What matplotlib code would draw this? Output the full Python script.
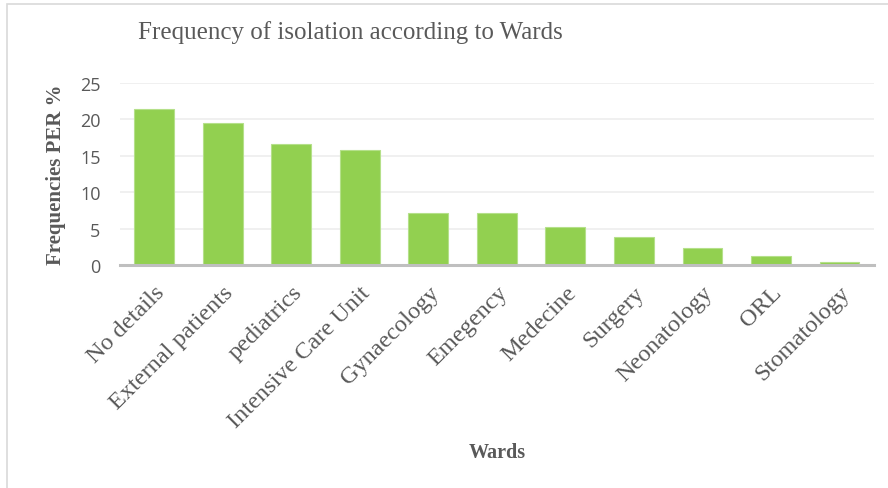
import matplotlib.pyplot as plt
from matplotlib.patches import Rectangle

wards = ['No details', 'External patients', 'pediatrics', 'Intensive Care Unit',
         'Gynaecology', 'Emegency', 'Medecine', 'Surgery', 'Neonatology', 'ORL',
         'Stomatology']
freq = [21.5, 19.5, 16.6, 15.8, 7.2, 7.2, 5.2, 3.8, 2.4, 1.2, 0.4]

serif = ['Liberation Serif', 'DejaVu Serif']
grey = '#595959'

fig = plt.figure(figsize=(8.88, 4.89), dpi=100)
ax = fig.add_axes([0.135, 0.456, 0.849, 0.372])

ax.bar(range(len(wards)), freq, width=0.58, color='#92D050',
       edgecolor='#B5E08A', linewidth=0.8, zorder=3)

ax.set_xlim(-0.5, len(wards) - 0.5)
ax.set_ylim(0, 25)
ax.set_yticks([0, 5, 10, 15, 20, 25])
ax.yaxis.grid(True, color='#EDEDED', linewidth=1.2, zorder=0)
ax.set_axisbelow(True)
for s in ['top', 'right', 'left']:
    ax.spines[s].set_visible(False)
ax.spines['bottom'].set_color('#BFBFBF')
ax.spines['bottom'].set_linewidth(2.2)
ax.spines['bottom'].set_zorder(4)
ax.tick_params(axis='both', length=0)
ax.tick_params(axis='y', labelsize=13, labelcolor=grey, pad=14)
for t in ax.get_yticklabels():
    t.set_family(['Open Sans', 'DejaVu Sans'])

ax.set_xticks(range(len(wards)))
ax.set_xticklabels(wards, rotation=45, ha='right', rotation_mode='anchor',
                   family=serif, fontsize=17.5, color=grey)
ax.tick_params(axis='x', pad=12)

ax.set_ylabel('Frequencies PER %', family=serif, fontsize=15,
              fontweight='bold', color=grey, labelpad=10)
fig.text(0.56, 0.073, 'Wards', family=serif, fontsize=14.5,
         fontweight='bold', color=grey, ha='center', va='center')
fig.text(0.155, 0.933, 'Frequency of isolation according to Wards',
         family=serif, fontsize=18, color=grey, ha='left', va='center')

fig.patches.append(Rectangle((0.008, -0.1), 1.2, 1.09, transform=fig.transFigure,
                             fill=False, edgecolor='#D9D9D9', linewidth=1.2))

fig.savefig('out.png', dpi=100)
